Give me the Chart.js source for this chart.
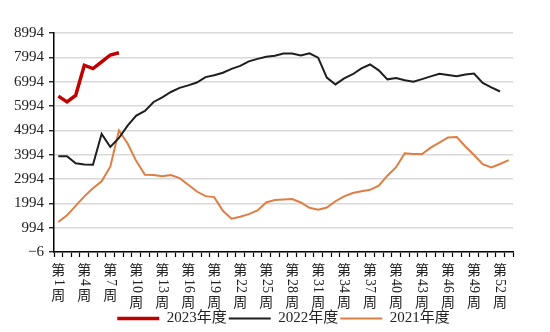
<!DOCTYPE html>
<html>
<head>
<meta charset="utf-8">
<script src="https://cdn.jsdelivr.net/npm/chart.js@4.4.1/dist/chart.umd.min.js"></script>
<style>
  html, body { margin: 0; padding: 0; background: #fff; }
  #wrap { width: 550px; height: 332px; }
</style>
</head>
<body>
<div id="wrap"><canvas id="myChart"></canvas></div>
<script>
// weeks of the year (category axis)
const weeks = [1, 2, 3, 4, 5, 6, 7, 8, 9, 10, 11, 12, 13, 14, 15, 16, 17, 18, 19, 20,
  21, 22, 23, 24, 25, 26, 27, 28, 29, 30, 31, 32, 33, 34, 35, 36, 37, 38, 39, 40,
  41, 42, 43, 44, 45, 46, 47, 48, 49, 50, 51, 52, 53];
// weeks that get a label under the axis
const labelWeeks = [1, 4, 7, 10, 13, 16, 19, 22, 25, 28, 31, 34, 37, 40, 43, 46, 49, 52];
const yTicks = [-6, 994, 1994, 2994, 3994, 4994, 5994, 6994, 7994, 8994];

const seriesNames = ["2023年度", "2022年度", "2021年度"];
const values2023 = [6400, 6160, 6430, 7670, 7530, 7810, 8090, 8180];
const values2022 = [3930, 3930, 3640, 3590, 3580, 4850, 4310, 4680, 5190, 5600,
  5790, 6160, 6350, 6570, 6740, 6840, 6960, 7180, 7260, 7360,
  7520, 7640, 7830, 7930, 8020, 8060, 8150, 8150, 8070, 8160,
  7980, 7160, 6880, 7130, 7300, 7540, 7700, 7460, 7090, 7140,
  7050, 6990, 7100, 7210, 7320, 7270, 7220, 7290, 7330, 6940,
  6760, 6590];
const values2021 = [1230, 1500, 1890, 2280, 2610, 2900, 3500, 4990, 4450, 3730,
  3170, 3160, 3110, 3160, 3030, 2760, 2480, 2290, 2250, 1690,
  1360, 1440, 1550, 1700, 2030, 2130, 2150, 2170, 2030, 1810,
  1730, 1820, 2080, 2280, 2420, 2490, 2550, 2720, 3130, 3480,
  4050, 4020, 4020, 4280, 4490, 4700, 4720, 4330, 3980, 3600,
  3470, 3610, 3770];

const FONT = "'Liberation Serif', 'Noto Sans CJK SC', serif";

// vertical week labels: 第 / digits turned sideways / 周
const weekLabels = {
  id: "weekLabels",
  beforeDraw(chart) {
    // centre the legend under the plot area instead of the whole canvas
    const area = chart.chartArea;
    chart.legend.left = area.left;
    chart.legend.right = area.right;
  },
  afterDraw(chart) {
    const scale = chart.scales.x;
    const ctx = chart.ctx;
    const top = scale.top;
    ctx.save();
    ctx.fillStyle = "#222";
    labelWeeks.forEach((w) => {
      const px = scale.getPixelForValue(weeks.indexOf(w));
      ctx.font = "14px 'Noto Sans CJK SC'";
      ctx.textAlign = "center";
      ctx.textBaseline = "middle";
      ctx.fillText("第", px, top + 18);

      const num = String(w);
      ctx.font = "14px 'Liberation Serif'";
      const len = ctx.measureText(num).width;
      ctx.save();
      ctx.translate(px, top + 27);
      ctx.rotate(Math.PI / 2);
      ctx.textAlign = "left";
      ctx.textBaseline = "middle";
      ctx.fillText(num, 0, 0);
      ctx.restore();

      ctx.font = "14px 'Noto Sans CJK SC'";
      ctx.fillText("周", px, top + 27 + len + 9);
    });
    ctx.restore();
  },
};

const makeLine = (label, data, color, width) => ({
  label,
  data,
  borderColor: color,
  backgroundColor: color,
  borderWidth: width,
  pointRadius: 0,
  pointHoverRadius: 0,
  tension: 0,
  fill: false,
});

const ctx = document.getElementById("myChart").getContext("2d");
const myChart = new Chart(ctx, {
  type: "line",
  data: {
    labels: weeks.map((w) => "第" + w + "周"),
    datasets: [
      makeLine(seriesNames[0], values2023, "#C00000", 3.5),
      makeLine(seriesNames[1], values2022, "#1e1e1e", 2),
      makeLine(seriesNames[2], values2021, "#DF7E44", 2),
    ],
  },
  options: {
    responsive: true,
    maintainAspectRatio: false,
    animation: false,
    devicePixelRatio: 1,
    layout: { padding: { top: 33, right: 37, bottom: -4, left: 0 } },
    plugins: {
      tooltip: { enabled: false },
      legend: {
        position: "bottom",
        labels: {
          usePointStyle: true,
          pointStyle: "line",
          pointStyleWidth: 42,
          padding: 2,
          color: "#222",
          font: { family: FONT, size: 15 },
        },
      },
    },
    scales: {
      x: {
        type: "category",
        offset: true,
        border: { color: "#000", width: 1.5 },
        grid: {
          offset: true,
          drawOnChartArea: false,
          drawTicks: true,
          tickLength: 5,
          tickColor: "#000",
          tickWidth: 1.2,
        },
        ticks: { display: false, autoSkip: false },
        afterFit(scale) {
          scale.height = 57;
        },
      },
      y: {
        min: -6,
        max: 8994,
        border: { color: "#000", width: 1.5 },
        grid: {
          color: "#d9d9d9",
          lineWidth: 1.5,
          tickLength: 5,
          tickColor: "#000",
          tickWidth: 1.2,
        },
        afterBuildTicks(scale) {
          scale.ticks = yTicks.map((v) => ({ value: v }));
        },
        ticks: {
          padding: 5,
          color: "#222",
          font: { family: FONT, size: 15 },
          callback: (v) => String(v).replace("-", "\u2212"),
        },
        afterFit(scale) {
          scale.width = 54;
        },
      },
    },
  },
  plugins: [weekLabels],
});
</script>
</body>
</html>
